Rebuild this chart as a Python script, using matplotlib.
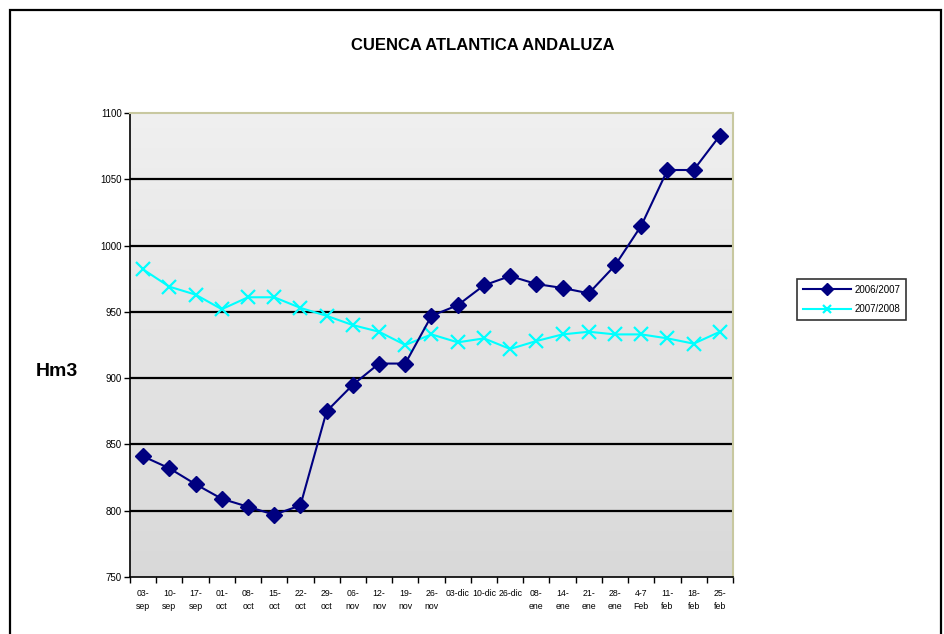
import numpy as np
import matplotlib.pyplot as plt
from matplotlib.patches import Rectangle

# ─────────────────────────────────
# DATA
# ─────────────────────────────────
fechas = ["03-\nsep", "10-\nsep", "17-\nsep", "01-\noct", "08-\noct", "15-\noct",
          "22-\noct", "29-\noct", "06-\nnov", "12-\nnov", "19-\nnov", "26-\nnov",
          "03-dic", "10-dic", "26-dic", "08-\nene", "14-\nene", "21-\nene",
          "28-\nene", "4-7\nFeb", "11-\nfeb", "18-\nfeb", "25-\nfeb"]

serie_0607 = [841, 832, 820, 809, 803, 797, 804, 875, 895, 911, 911, 947,
              955, 970, 977, 971, 968, 964, 985, 1015, 1057, 1057, 1083]
serie_0708 = [982, 969, 963, 952, 961, 961, 953, 947, 940, 935, 925, 933,
              927, 930, 922, 928, 933, 935, 933, 933, 930, 926, 935]

y_ticks = [750, 800, 850, 900, 950, 1000, 1050, 1100]

# ─────────────────────────────────
# FIGURE
# ─────────────────────────────────
fig = plt.figure(figsize=(9.45, 6.34), dpi=100)
fig.patch.set_facecolor('white')

# outer frame of the chart (bottom edge falls outside the picture)
fig.patches.append(Rectangle((10 / 945, -10 / 634), 931 / 945, 634 / 634,
                             transform=fig.transFigure, fill=False,
                             edgecolor='black', linewidth=1.6))

ax = fig.add_axes([130 / 945, 1 - 577 / 634, 603 / 945, 464 / 634])

x = np.arange(len(fechas))
ax.set_xlim(-0.5, len(fechas) - 0.5)
ax.set_ylim(750, 1100)

# grey gradient background
grad = np.linspace(0.94, 0.85, 256).reshape(-1, 1)
ax.imshow(np.dstack([grad, grad, grad]), aspect='auto',
          extent=[0, 1, 0, 1], transform=ax.transAxes, zorder=0)

for yv in y_ticks[1:-1]:
    ax.axhline(yv, color='black', linewidth=1.6, zorder=1)

ax.plot(x, serie_0607, color='#000080', marker='D', markersize=8,
        linewidth=1.5, label='2006/2007', zorder=3)
ax.plot(x, serie_0708, color='#00ffff', marker='x', markersize=10,
        markeredgewidth=1.6, linewidth=1.5, label='2007/2008', zorder=2)

ax.set_yticks(y_ticks)
ax.set_yticklabels([str(v) for v in y_ticks], fontsize=7,
                   family='Liberation Sans')
ax.set_xticks(np.arange(len(fechas) + 1) - 0.5, minor=False)
ax.set_xticklabels([])
ax.set_xticks(x, minor=True)
ax.set_xticklabels(fechas, minor=True, fontsize=6.3, family='Liberation Sans',
                   linespacing=1.45, va='top')
ax.tick_params(axis='x', which='major', length=4, width=1, direction='out')
ax.tick_params(axis='x', which='minor', length=0, pad=9)
ax.tick_params(axis='y', length=4, width=1, pad=2)

ax.spines['left'].set_color('black')
ax.spines['left'].set_linewidth(1.2)
ax.spines['bottom'].set_color('black')
ax.spines['bottom'].set_linewidth(1.2)
ax.spines['top'].set_color('#c8c8a0')
ax.spines['right'].set_color('#c8c8a0')
ax.spines['top'].set_linewidth(1.5)
ax.spines['right'].set_linewidth(1.5)

fig.text(483 / 945, 1 - 45 / 634, 'CUENCA ATLANTICA ANDALUZA',
         ha='center', va='center', fontsize=12, fontweight='bold',
         family='Liberation Sans')
fig.text(57 / 945, 1 - 372 / 634, 'Hm3', ha='center', va='center',
         fontsize=14, fontweight='bold', family='Liberation Sans')

leg = fig.legend(loc='upper left',
                 bbox_to_anchor=(792 / 945, 1 - 274 / 634),
                 prop={'family': 'Liberation Sans', 'size': 7},
                 frameon=True, fancybox=False, handlelength=5,
                 borderpad=0.6, labelspacing=1.0, handletextpad=0.3)
leg.get_frame().set_edgecolor('black')
leg.get_frame().set_linewidth(1.2)
for h in leg.legend_handles:
    h.set_markersize(6)

plt.savefig('out.png', dpi=100, facecolor='white')
